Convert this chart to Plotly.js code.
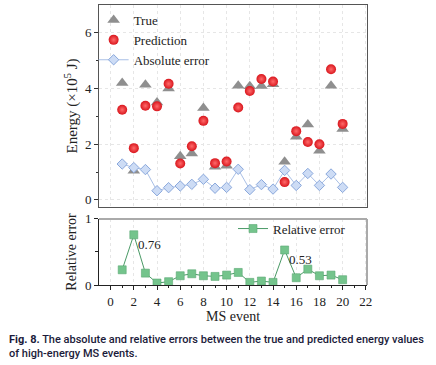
<!DOCTYPE html>
<html><head><meta charset="utf-8">
<script src="https://cdn.plot.ly/plotly-3.0.1.min.js"></script>
<style>body{margin:0;padding:0;background:#fff}#c{width:436px;height:365px}</style>
</head><body><div id="c"></div>
<script>
const events = [1,2,3,4,5,6,7,8,9,10,11,12,13,14,15,16,17,18,19,20];
const trueE = [4.2,1.05,4.14,3.5,4.0,1.57,1.67,3.3,1.19,1.23,4.1,4.08,4.09,4.15,1.37,2.27,2.71,1.77,4.1,2.55];
const predE = [3.24,1.86,3.38,3.36,4.17,1.31,1.93,2.84,1.32,1.38,3.32,3.91,4.34,4.25,0.64,2.47,2.08,2.0,4.69,2.73];
const absErr = [1.29,1.16,1.09,0.33,0.44,0.5,0.56,0.74,0.42,0.45,1.1,0.37,0.55,0.39,1.06,0.52,0.95,0.52,0.93,0.45];
const relErr = [0.23,0.76,0.18,0.03,0.05,0.14,0.17,0.14,0.13,0.15,0.19,0.04,0.06,0.04,0.53,0.11,0.24,0.14,0.15,0.08];
const xTicks = [0,2,4,6,8,10,12,14,16,18,20,22];

const serif = 'Liberation Serif, Times New Roman, serif';
const traces = [
  {x: events, y: trueE, type:'scatter', mode:'markers', name:'True', xaxis:'x', yaxis:'y',
   marker:{symbol:'triangle-up', size:11, color:'#8f8f8f', line:{width:0}}, legendgroup:'a'},
  {x: events, y: predE, type:'scatter', mode:'markers', name:'Prediction', xaxis:'x', yaxis:'y',
   marker:{symbol:'circle', size:10, color:'#d9161d', line:{width:0},
   gradient:{type:'radial', color:'#ff6a6a'}}, legendgroup:'a'},
  {x: events, y: absErr, type:'scatter', mode:'lines+markers', name:'Absolute error', xaxis:'x', yaxis:'y',
   line:{color:'#a9bfe6', width:1},
   marker:{symbol:'diamond', size:8, color:'#cddcf5', line:{width:1, color:'#8aa8dc'}}, legendgroup:'a'},
  {x: events, y: relErr, type:'scatter', mode:'lines+markers', name:'Relative error', xaxis:'x2', yaxis:'y2',
   line:{color:'#4a9a66', width:1},
   marker:{symbol:'square', size:8, color:'#74c48c', line:{width:0.6, color:'#5aa874'}}, legend:'legend2'}
];

const grid = {showgrid:true, gridcolor:'#e6e6e6', griddash:'dot', gridwidth:1};
const layout = {
  width:436, height:365,
  margin:{l:99, r:69, t:5, b:80},
  paper_bgcolor:'#fff', plot_bgcolor:'#fff',
  font:{family:serif, size:13, color:'#222'},
  showlegend:true,
  legend:{x:-0.02, y:1, xanchor:'left', yanchor:'top', bgcolor:'rgba(0,0,0,0)',
          font:{family:serif, size:13, color:'#222'}, tracegroupgap:0, itemwidth:30},
  legend2:{x:0.5, y:0.255, xanchor:'left', yanchor:'top', bgcolor:'rgba(0,0,0,0)',
          font:{family:serif, size:13, color:'#222'}, itemwidth:30},
  xaxis:Object.assign({domain:[0,1], anchor:'y', range:[-1,22.1], tickvals:xTicks, showticklabels:false,
    showline:true, mirror:true, linecolor:'#555', linewidth:1, ticks:'', zeroline:false}, grid),
  yaxis:Object.assign({domain:[0.279,1], anchor:'x', range:[-0.25,7], tickvals:[0,2,4,6],
    showline:true, mirror:true, linecolor:'#555', linewidth:1, ticks:'outside', ticklen:4, tickcolor:'#333',
    zeroline:false, minor:{tickvals:[1,3,5], ticks:'outside', ticklen:2, tickcolor:'#333', showgrid:false},
    title:{text:'Energy (×10<sup>5</sup> J)', font:{family:serif, size:15}, standoff:3}}, grid),
  xaxis2:Object.assign({domain:[0,1], anchor:'y2', range:[-1,22.1], tickvals:xTicks,
    showline:true, linecolor:'#222', linewidth:1, ticks:'outside', ticklen:4, tickcolor:'#222', zeroline:false,
    minor:{tickvals:[1,3,5,7,9,11,13,15,17,19,21], ticks:'outside', ticklen:2, tickcolor:'#222', showgrid:false},
    title:{text:'MS event', font:{family:serif, size:14}, standoff:0}}, grid),
  yaxis2:{domain:[0,0.236], anchor:'x2', range:[0,1], tickvals:[0,1],
    showline:true, linecolor:'#222', linewidth:1, ticks:'outside', ticklen:4, tickcolor:'#222', zeroline:false,
    showgrid:false, minor:{tickvals:[0.5], ticks:'outside', ticklen:3, tickcolor:'#222'},
    title:{text:'Relative error', font:{family:serif, size:14}, standoff:4}},
  shapes:[
    {type:'line', xref:'paper', yref:'paper', x0:0, x1:1, y0:0.236, y1:0.236, line:{color:'#aaa', width:2}},
    {type:'line', xref:'paper', yref:'paper', x0:1, x1:1, y0:0, y1:0.236, line:{color:'#aaa', width:2}}
  ],
  annotations:[
    {x:events[1], y:relErr[1], xref:'x2', yref:'y2', text:relErr[1].toFixed(2), showarrow:false,
     xanchor:'left', yanchor:'top', xshift:2, yshift:0, font:{family:serif, size:13, color:'#222'}},
    {x:events[14], y:relErr[14], xref:'x2', yref:'y2', text:relErr[14].toFixed(2), showarrow:false,
     xanchor:'left', yanchor:'top', xshift:2, yshift:0, font:{family:serif, size:13, color:'#222'}},
    {xref:'paper', yref:'paper', x:-0.345, y:-0.165, xanchor:'left', yanchor:'top', align:'left', showarrow:false,
     text:'<b>Fig. 8.</b> The absolute and relative errors between the true and predicted energy values<br>of high-energy MS events.',
     font:{family:'Roboto, sans-serif', size:11, color:'#1b1b3a', weight:500}}
  ]
};
Plotly.newPlot('c', traces, layout, {displayModeBar:false, staticPlot:true});
</script></body></html>
